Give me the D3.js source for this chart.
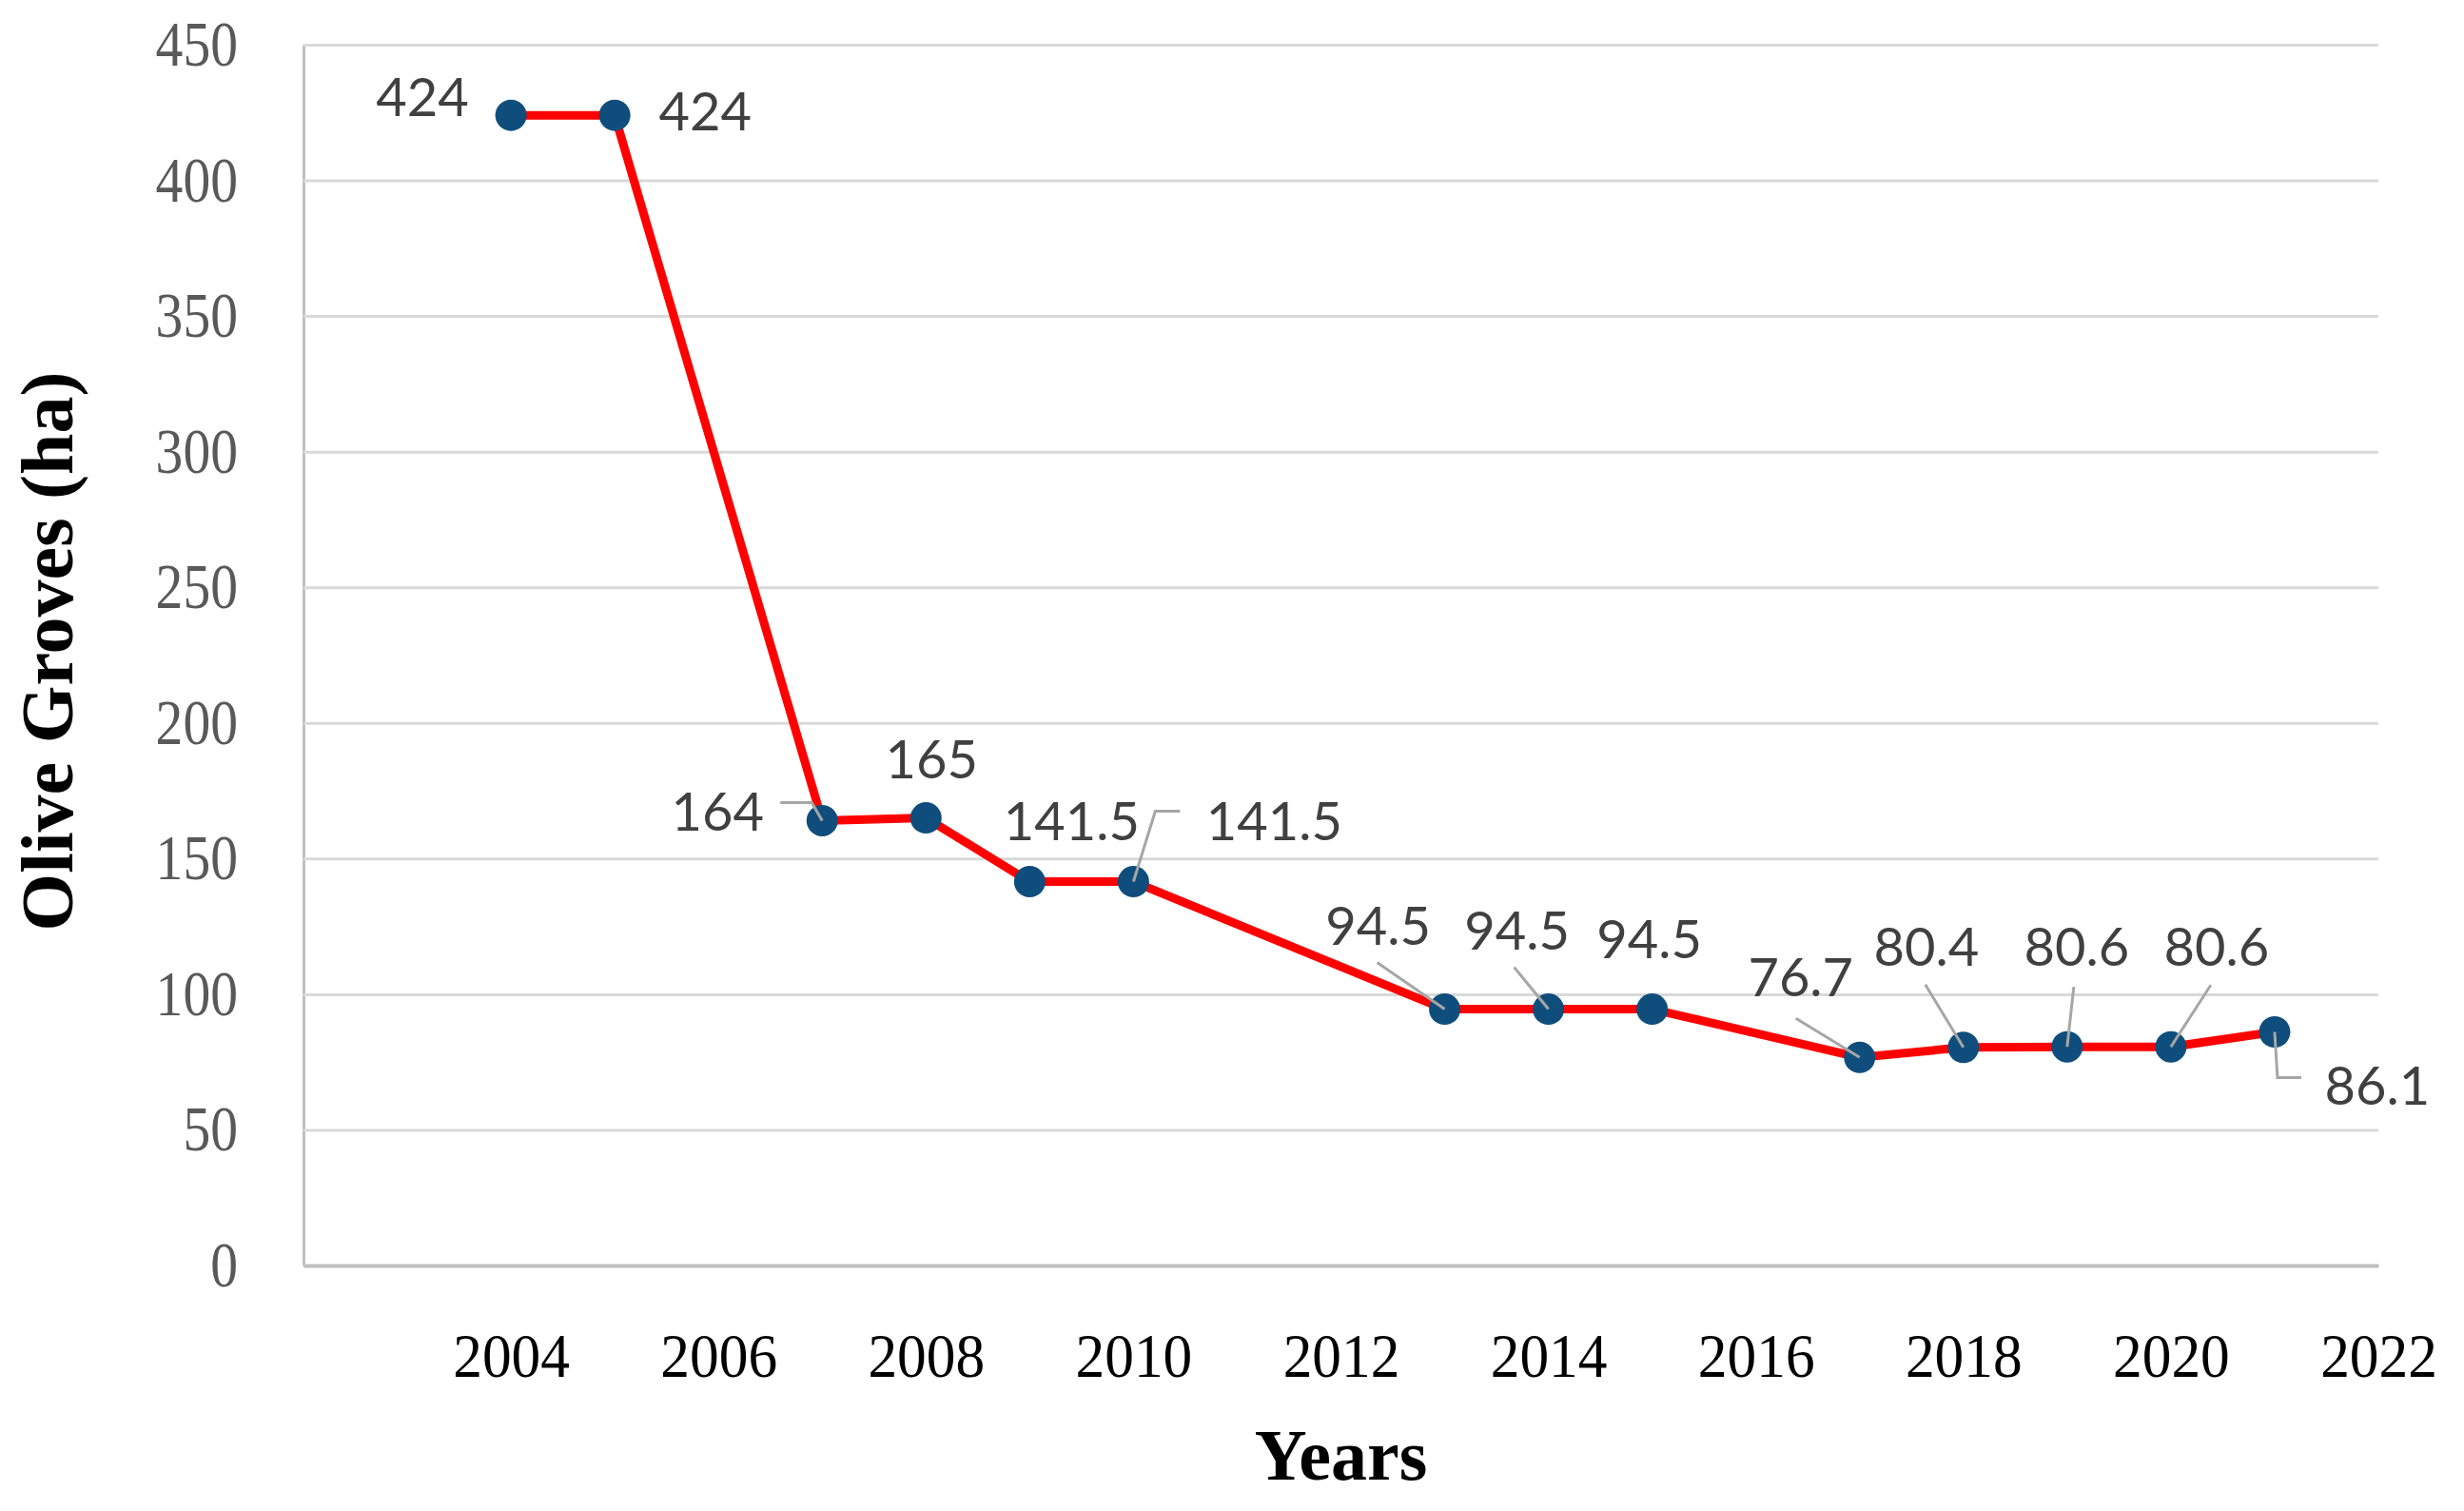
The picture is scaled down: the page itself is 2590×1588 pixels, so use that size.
<!DOCTYPE html>
<meta charset="utf-8">
<script src="https://d3js.org/d3.v7.min.js"></script>
<style>
  body { margin: 0; background: #fff; }
</style>
<div id="chart"></div>
<script>
    // values
    const years = [2004, 2005, 2007, 2008, 2009, 2010, 2013, 2014, 2015, 2017, 2018, 2019, 2020, 2021];
    const olive = [424, 424, 164, 165, 141.5, 141.5, 94.5, 94.5, 94.5, 76.7, 80.4, 80.6, 80.6, 86.1];
    const yTicks = [0, 50, 100, 150, 200, 250, 300, 350, 400, 450];
    const xTicks = [2004, 2006, 2008, 2010, 2012, 2014, 2016, 2018, 2020, 2022];

    // label placement: [dx, dy] from the marker, plus optional leader line
    const labelPlace = [
        [-93, 1], [95, 16],
        [-110, 11, [[-44, -19], [-11, -19], [0, 0]]],
        [6, -42], [44, -44],
        [148, -44, [[0, 0], [23, -74], [49, -74]]],
        [-70, -68, [[-71, -49], [0, 0]]],
        [-33, -63, [[-36, -44], [0, 0]]],
        [-3, -54],
        [-62, -64, [[-67, -41], [0, 0]]],
        [-39, -86, [[-40, -66], [0, 0]]],
        [10, -85, [[7, -63], [0, 0]]],
        [48, -85, [[42, -65], [0, 0]]],
        [108, 76, [[0, 0], [3, 48], [28, 48]]]
    ];

    const W = 2590, H = 1588;
    const mLeft = 319, mRight = 2500, mTop = 47, mBottom = 1330;

    var svg = d3.select("#chart").append("svg")
        .attr("width", W)
        .attr("height", H);

    var x = d3.scaleLinear().domain([2002, 2022]).range([mLeft, mRight]);
    var y = d3.scaleLinear().domain([0, 450]).range([mBottom, mTop]);

    // y axis + gridlines
    var gy = svg.append("g")
        .attr("transform", "translate(" + mLeft + ",0)")
        .call(d3.axisLeft(y).tickValues(yTicks).tickSize(-(mRight - mLeft)).tickSizeOuter(0).tickPadding(69));
    gy.selectAll(".tick line").attr("stroke", "#d9d9d9").attr("stroke-width", 3);
    gy.select(".domain").attr("stroke", "#bfbfbf").attr("stroke-width", 3);
    // the tick font in the figure is a little narrow, so squeeze it sideways
    gy.selectAll("text")
        .attr("font-family", "'Liberation Serif', 'Times New Roman', serif")
        .attr("font-size", 67)
        .attr("fill", "#595959")
        .attr("x", -69 / 0.86)
        .attr("transform", "scale(0.86,1)");

    // x axis
    var gx = svg.append("g")
        .attr("transform", "translate(0," + mBottom + ")")
        .call(d3.axisBottom(x).tickValues(xTicks).tickFormat(d3.format("d")).tickSize(0).tickPadding(70));
    gx.select(".domain").attr("stroke", "#bfbfbf").attr("stroke-width", 4);
    gx.selectAll("text")
        .attr("font-family", "'Liberation Serif', 'Times New Roman', serif")
        .attr("font-size", 66)
        .attr("fill", "#000")
        .attr("transform", "scale(0.93,1)");

    // axis titles
    svg.append("text")
        .attr("transform", "translate(76," + ((mTop + mBottom) / 2 - 4) + ") rotate(-90)")
        .attr("text-anchor", "middle")
        .attr("font-family", "'Liberation Serif', 'Times New Roman', serif")
        .attr("font-weight", "bold")
        .attr("font-size", 78)
        .text("Olive Groves (ha)");

    svg.append("text")
        .attr("x", (mLeft + mRight) / 2)
        .attr("y", 1555)
        .attr("text-anchor", "middle")
        .attr("font-family", "'Liberation Serif', 'Times New Roman', serif")
        .attr("font-weight", "bold")
        .attr("font-size", 76)
        .text("Years");

    var data = years.map((yr, i) => ({year: yr, value: olive[i], place: labelPlace[i]}));

    // the red line
    svg.append("path")
        .datum(data)
        .attr("fill", "none")
        .attr("stroke", "#ff0000")
        .attr("stroke-width", 9)
        .attr("stroke-linejoin", "round")
        .attr("d", d3.line().x(d => x(d.year)).y(d => y(d.value)));

    // markers
    svg.append("g")
        .selectAll("circle")
        .data(data)
        .enter().append("circle")
            .attr("cx", d => x(d.year))
            .attr("cy", d => y(d.value))
            .attr("r", 16.5)
            .attr("fill", "#0f4e7c");

    // leader lines
    var leader = d3.line();
    svg.append("g")
        .selectAll("path")
        .data(data.filter(d => d.place[2]))
        .enter().append("path")
            .attr("fill", "none")
            .attr("stroke", "#a6a6a6")
            .attr("stroke-width", 3)
            .attr("d", d => leader(d.place[2].map(p => [x(d.year) + p[0], y(d.value) + p[1]])));

    // data labels
    svg.append("g")
        .selectAll("text")
        .data(data)
        .enter().append("text")
            .attr("x", d => x(d.year) + d.place[0])
            .attr("y", d => y(d.value) + d.place[1])
            .attr("text-anchor", "middle")
            .attr("font-family", "Lato, 'Open Sans', sans-serif")
            .attr("font-size", 56)
            .attr("fill", "#404040")
            .text(d => d.value);
</script>
